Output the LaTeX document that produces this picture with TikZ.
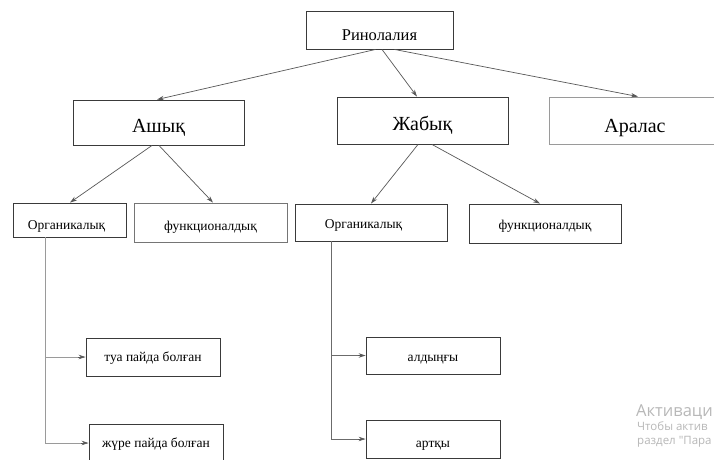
\documentclass[tikz,border=0pt]{standalone}
\usepackage{fontspec}
\setmainfont{Liberation Serif}
\newfontfamily\wmfont{Open Sans}
\usetikzlibrary{arrows.meta,calc}
\definecolor{boxline}{HTML}{3A3A3A}
\definecolor{lightline}{HTML}{9A9A9A}
\definecolor{wmgray}{HTML}{B8B8B8}
\begin{document}
\begin{tikzpicture}[x=1pt,y=-1pt,
  box/.style={draw=boxline, line width=0.9pt, rectangle, inner sep=0pt},
  basedown/.style={text height=#1, text depth=0pt},
  big/.style={font=\fontsize{20}{22}\selectfont, basedown=20pt},
  small/.style={font=\fontsize{13.5}{15}\selectfont, basedown=13pt},
  conn/.style={draw=boxline!85, line width=0.7pt, -{Stealth[length=7pt,width=4.5pt]}},
  vline/.style={draw=lightline, line width=0.9pt}
]
\clip (0,0) rectangle (714,459);
\fill[white] (0,0) rectangle (714,459);

% top
\node[box, minimum width=147pt, minimum height=38pt, font=\fontsize{16.5}{18}\selectfont, basedown=20pt] (rin) at (379.5,30) {Ринолалия};

% level 2
\node[box, big, minimum width=171pt, minimum height=45pt] (ashyk) at (158.5,122.5) {Ашық};
\node[box, big, minimum width=171pt, minimum height=47pt] (zhabyk) at (422.5,120.5) {Жабық};
\node[box, big, draw=lightline, minimum width=172pt, minimum height=47pt, basedown=23pt] (aralas) at (635,120.5) {Аралас};

% level 3
\node[box, small, minimum width=113pt, minimum height=34pt, basedown=18pt] (ogl) at (69.5,220) {\kern-6pt Органикалық};
\node[box, small, draw=boxline!70, minimum width=153pt, minimum height=39pt, basedown=15pt] (fl) at (210.5,222.5) {функционалдық};
\node[box, small, minimum width=152pt, minimum height=37pt, basedown=11pt] (om) at (371,222.5) {\kern-15pt Органикалық};
\node[box, small, minimum width=152pt, minimum height=39pt, basedown=11pt] (fr) at (545,223.5) {функционалдық};

% level 4
\node[box, small, minimum width=134pt, minimum height=38pt, basedown=8pt] (tua) at (153,357) {туа пайда болған};
\node[box, small, minimum width=134pt, minimum height=38pt, basedown=8pt] (zhure) at (156,443) {жүре пайда болған};
\node[box, small, minimum width=134pt, minimum height=37pt, basedown=11pt] (ald) at (433,355.5) {алдыңғы};
\node[box, small, minimum width=134pt, minimum height=38pt, basedown=16pt] (art) at (433,439) {артқы};

% connectors from top
\draw[conn] ($(rin.south)+(-4,0)$) -- ($(ashyk.north)+(-1.5,0)$);
\draw[conn] ($(rin.south)+(2.5,0)$) -- ($(zhabyk.north)+(-5.5,0)$);
\draw[conn] ($(rin.south)+(15,0)$) -- ($(aralas.north)+(3,0)$);

% connectors from level 2
\draw[conn] ($(ashyk.south)+(-6.5,0)$) -- ($(ogl.north)+(0.5,0)$);
\draw[conn] ($(ashyk.south)+(0.5,0)$) -- ($(fl.north)+(2.5,0)$);
\draw[conn] ($(zhabyk.south)+(-4.5,0)$) -- (om.north);
\draw[conn] ($(zhabyk.south)+(9.5,0)$) -- ($(fr.north)+(-5,0)$);

% left tree
\coordinate (lv) at ($(ogl.south west)+(33,0)$);
\draw[vline] (lv) |- ($(zhure.west)+(-6,0)$);
\draw[vline] (lv |- tua.west) -- ($(tua.west)+(-6,0)$);
\draw[conn] ($(tua.west)+(-8,0)$) -- (tua.west);
\draw[conn] ($(zhure.west)+(-8,0)$) -- (zhure.west);

% middle tree
\coordinate (mv) at ($(om.south west)+(37,0)$);
\draw[draw=boxline!75, line width=0.8pt] (mv) |- ($(art.west)+(-6,0)$);
\draw[draw=boxline!75, line width=0.8pt] (mv |- ald.west) -- ($(ald.west)+(-6,0)$);
\draw[conn] ($(ald.west)+(-8,0)$) -- (ald.west);
\draw[conn] ($(art.west)+(-8,0)$) -- (art.west);

% watermark
\node[anchor=base west, inner sep=0pt, text=wmgray, font=\wmfont\fontsize{16.5}{18}\selectfont] (wm1) at (636,416) {Активаци};
\node[anchor=base west, inner sep=0pt, text=wmgray, font=\wmfont\fontsize{11.5}{13}\selectfont] (wm2) at (637,430.5) {Чтобы актив};
\node[anchor=base west, inner sep=0pt, text=wmgray, font=\wmfont\fontsize{11.5}{13}\selectfont] (wm3) at (637,444.5) {раздел "Пара};
\end{tikzpicture}
\end{document}
